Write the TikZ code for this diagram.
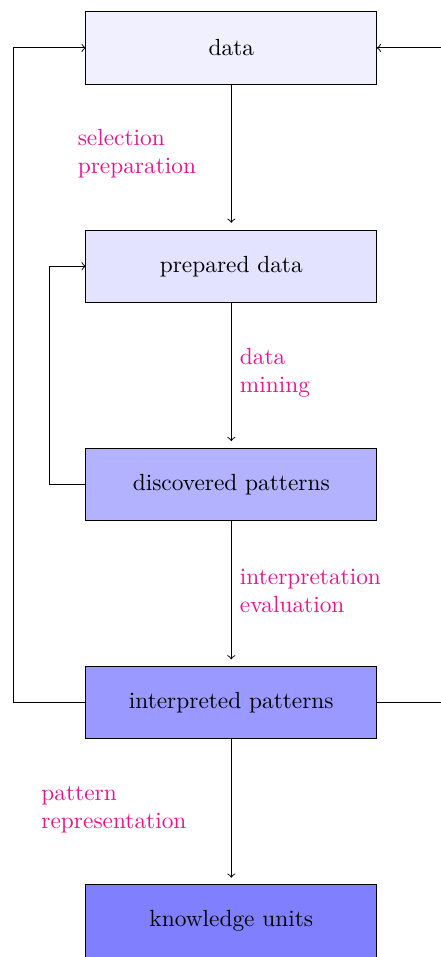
\documentclass[tikz,border=0pt]{standalone}
\usetikzlibrary{positioning}
\definecolor{lblpink}{RGB}{232,20,140}
\begin{document}
\begin{tikzpicture}[x=0.42808pt,y=-0.42808pt,
  stagebox/.style={draw=black,minimum width=124.6pt,minimum height=30.95pt,inner sep=0pt,outer sep=0pt},
  conn/.style={->,black},
  stagelbl/.style={text=lblpink,align=left,anchor=north west,inner sep=0pt}]
\useasboundingbox (0,0) rectangle (441,957);
\clip (0,0) rectangle (441,957);
\node[stagebox,fill=blue!6]  (data) at (231.3,47.9) {data};
\node[stagebox,fill=blue!11] (prep) at (231.3,266.2) {prepared data};
\node[stagebox,fill=blue!30] (disc) at (231.3,484.5) {discovered patterns};
\node[stagebox,fill=blue!40] (intp) at (231.3,702.8) {interpreted patterns};
\node[stagebox,fill=blue!50] (know) at (231.3,921.1) {knowledge units};
\draw[conn,shorten >=3.1pt] (data) -- (prep);
\draw[conn,shorten >=3.1pt] (prep) -- (disc);
\draw[conn,shorten >=3.1pt] (disc) -- (intp);
\draw[conn,shorten >=3.1pt] (intp) -- (know);
\draw[conn] (intp.west) -- (13.3,702.8) -- (13.3,47.9) -- (data.west);
\draw[conn] (intp.east) -- (520,702.8) -- (520,47.9) -- (data.east);
\draw[conn] (disc.west) -- (49.3,484.5) -- (49.3,266.2) -- (prep.west);
\node[stagelbl] (l1) at (77.3,129) {selection\\preparation};
\node[stagelbl] (l2) at (239.5,348) {data\\mining};
\node[stagelbl] (l3) at (239.5,569) {interpretation\\evaluation};
\node[stagelbl] (l4) at (41,786) {pattern\\representation};
\end{tikzpicture}
\end{document}
